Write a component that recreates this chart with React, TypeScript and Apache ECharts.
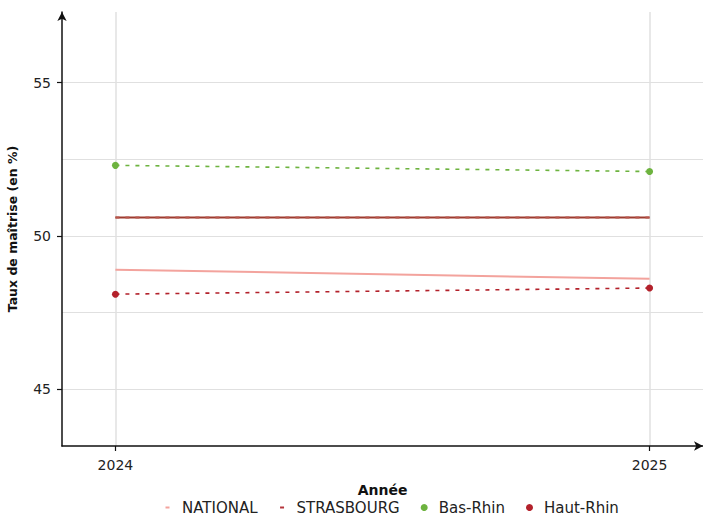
import React, { useEffect, useRef } from "react";
import * as echarts from "echarts";

const years = [2024, 2025];
const national = [48.9, 48.6];
const strasbourg = [50.6, 50.6];
const basRhin = [52.3, 52.1];
const hautRhin = [48.1, 48.3];
const yMajorTicks = [45, 50, 55];
const yGridValues = [45, 47.5, 50, 52.5, 55];

const FONT = "DejaVu Sans";

const pairs = (vals: number[]) => years.map((y, i) => [y, vals[i]]);

export default function App() {
  const ref = useRef<HTMLDivElement>(null);
  useEffect(() => {
    if (!ref.current) return;
    const chart = echarts.init(ref.current, null, { renderer: "svg" });
    const dashIcon = "path://M0,0M7,7M1.5,2.5h4v2h-4z";
    chart.setOption({
      animation: false,
      textStyle: { fontFamily: FONT },
      grid: { left: 62, right: 0, top: 12, bottom: 69, outerBoundsMode: "none", containLabel: false },
      xAxis: {
        type: "value",
        min: 2023.9,
        max: 2025.1,
        name: "Année",
        nameLocation: "middle",
        nameGap: 37,
        nameTextStyle: { fontSize: 14, fontWeight: "bold", color: "#111", fontFamily: FONT },
        axisLine: {
          show: true,
          symbol: ["none", "arrow"],
          symbolSize: [7, 9],
          lineStyle: { color: "#111", width: 1.5 },
        },
        axisTick: { show: true, customValues: years, length: 5, lineStyle: { color: "#111", width: 1.2 } },
        axisLabel: { customValues: years, color: "#222", fontSize: 14, margin: 12, formatter: (v: number) => String(v) },
        splitLine: { show: true, lineStyle: { color: "#e0e0e0", width: 1.5 } },
      },
      yAxis: [
        {
          type: "value",
          min: 43.15,
          max: 57.3,
          name: "Taux de maîtrise (en %)",
          nameLocation: "middle",
          nameGap: 43,
          nameTextStyle: { fontSize: 12.5, fontWeight: "bold", color: "#111", fontFamily: FONT },
          axisLine: {
            show: true,
            symbol: ["none", "arrow"],
            symbolSize: [7, 9],
            lineStyle: { color: "#111", width: 1.5 },
          },
          axisTick: { show: true, customValues: yMajorTicks, length: 5, lineStyle: { color: "#111", width: 1.2 } },
          axisLabel: { customValues: yMajorTicks, color: "#222", fontSize: 14, margin: 11 },
          splitLine: { show: false },
        },
        {
          type: "value",
          min: 43.15,
          max: 57.3,
          position: "left",
          axisLine: { show: false },
          axisTick: { show: false, customValues: yGridValues },
          axisLabel: { show: false },
          splitLine: { show: true, lineStyle: { color: "#e0e0e0", width: 1.2 } },
        },
      ],
      legend: {
        top: 500,
        left: 164,
        padding: 0,
        itemWidth: 7,
        itemHeight: 7,
        itemGap: 21,
        lineStyle: { opacity: 0, width: 0 },
        textStyle: { fontSize: 15, color: "#222", fontFamily: FONT, padding: [0, 0, 0, 6] },
        data: [
          { name: "NATIONAL", icon: dashIcon },
          { name: "STRASBOURG", icon: dashIcon },
          { name: "Bas-Rhin", icon: "circle" },
          { name: "Haut-Rhin", icon: "circle" },
        ],
      },
      series: [
        {
          name: "NATIONAL",
          type: "line",
          data: pairs(national),
          symbol: "none",
          color: "#f3a39d",
          lineStyle: { color: "#f3a39d", width: 2, type: "solid" },
          itemStyle: { color: "#f3a39d" },
        },
        {
          name: "STRASBOURG-base",
          type: "line",
          data: pairs(strasbourg),
          symbol: "none",
          color: "#9c3a2e",
          lineStyle: { color: "#9c3a2e", width: 2, type: "solid" },
        },
        {
          name: "STRASBOURG",
          type: "line",
          data: pairs(strasbourg),
          symbol: "none",
          color: "#b5353b",
          lineStyle: { color: "#b8554b", width: 2, type: [4, 6] },
          itemStyle: { color: "#b5353b" },
        },
        {
          name: "Bas-Rhin",
          type: "line",
          data: pairs(basRhin),
          symbol: "circle",
          symbolSize: 7,
          color: "#6db33f",
          lineStyle: { color: "#6db33f", width: 1.6, type: [4, 6] },
          itemStyle: { color: "#6db33f" },
        },
        {
          name: "Haut-Rhin",
          type: "line",
          data: pairs(hautRhin),
          symbol: "circle",
          symbolSize: 7,
          color: "#b3212b",
          lineStyle: { color: "#b3212b", width: 1.6, type: [4, 6] },
          itemStyle: { color: "#b3212b" },
        },
      ],
    });
    return () => chart.dispose();
  }, []);
  return (
    <div
      ref={ref}
      style={{ position: "fixed", left: 0, top: 0, width: 703, height: 515, background: "#fff" }}
    />
  );
}
